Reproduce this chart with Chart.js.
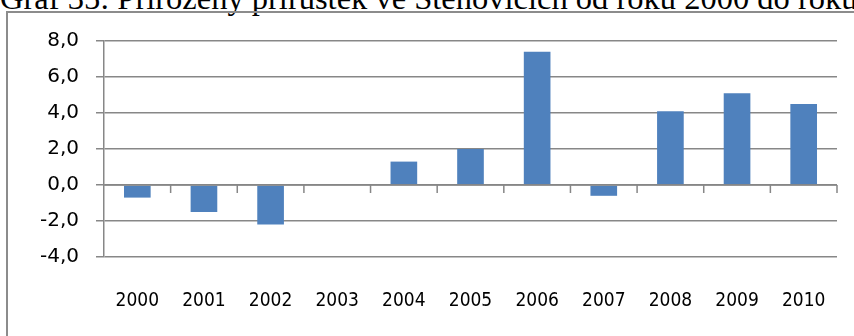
<!DOCTYPE html>
<html>
<head>
<meta charset="utf-8">
<script src="https://cdn.jsdelivr.net/npm/chart.js@4/dist/chart.umd.min.js"></script>
<style>
  html,body{margin:0;padding:0;background:#fff;overflow:hidden;}
  #page{position:relative;width:854px;height:336px;overflow:hidden;}
  #title{position:absolute;left:0;top:-18px;white-space:nowrap;
    font-family:"Liberation Serif","Times New Roman",serif;font-size:32.5px;line-height:32px;color:#000;}
  #frame{position:absolute;left:6px;top:11px;width:900px;height:400px;border:2px solid #8c8c8c;}
  #c{position:absolute;left:0;top:0;}
</style>
</head>
<body>
<div id="page">
  <div id="title">Graf 35: Přirozený přírůstek ve Stěnovicích od roku 2000 do roku 2010</div>
  <div id="frame"></div>
  <canvas id="c" width="854" height="336"></canvas>
</div>
<script>
// ---------- data ----------
const ROKY = ["2000","2001","2002","2003","2004","2005","2006","2007","2008","2009","2010"];
const PRIRUSTEK = [-0.7,-1.5,-2.2,0,1.3,2.0,7.4,-0.6,4.1,5.1,4.5];
const Y_MIN = -4, Y_MAX = 8, Y_STEP = 2;

const GRID = "#878787";
const BAR = "#4f81bd";

// ---------- osa v nule + zarážky mezi kategoriemi ----------
const zeroAxis = {
  id:"zeroAxis",
  afterDatasetsDraw(chart){
    const {ctx, chartArea:a, scales:{x,y}} = chart;
    const y0 = y.getPixelForValue(0);
    const n = ROKY.length;
    ctx.save();
    ctx.strokeStyle = GRID;
    ctx.lineWidth = 1.5;
    ctx.beginPath();
    ctx.moveTo(a.left, y0); ctx.lineTo(a.right, y0);
    for(let i=1;i<=n;i++){
      const bx = i===n ? x.right : (x.getPixelForValue(i-1)+x.getPixelForValue(i))/2;
      ctx.moveTo(bx, y0); ctx.lineTo(bx, y0+8);
    }
    ctx.stroke();
    ctx.restore();
  }
};

new Chart(document.getElementById("c"),{
  type:"bar",
  data:{labels:ROKY,datasets:[{data:PRIRUSTEK,backgroundColor:BAR,
    categoryPercentage:1,barPercentage:0.4}]},
  options:{
    responsive:false,animation:false,devicePixelRatio:1,
    layout:{padding:{left:0,right:17,top:41,bottom:0}},
    plugins:{legend:{display:false},tooltip:{enabled:false}},
    scales:{
      x:{grid:{display:false},border:{display:false},
        ticks:{color:"#000",padding:25,maxRotation:0,autoSkip:false,
          font:{family:"'Liberation Sans Narrow','Arial Narrow','DejaVu Sans Condensed',sans-serif",size:19}},
        afterFit:s=>{s.height=79;}},
      y:{min:Y_MIN,max:Y_MAX,
        grid:{color:GRID,lineWidth:1.5,tickLength:8,drawTicks:true},
        border:{display:true,color:GRID,width:1.5},
        ticks:{stepSize:Y_STEP,color:"#000",padding:17,
          font:{family:"'DejaVu Sans',sans-serif",size:20},
          callback:v=>v.toFixed(1).replace(".",",")},
        afterFit:s=>{s.width=104;}}
    }
  },
  plugins:[zeroAxis]
});
</script>
</body>
</html>
